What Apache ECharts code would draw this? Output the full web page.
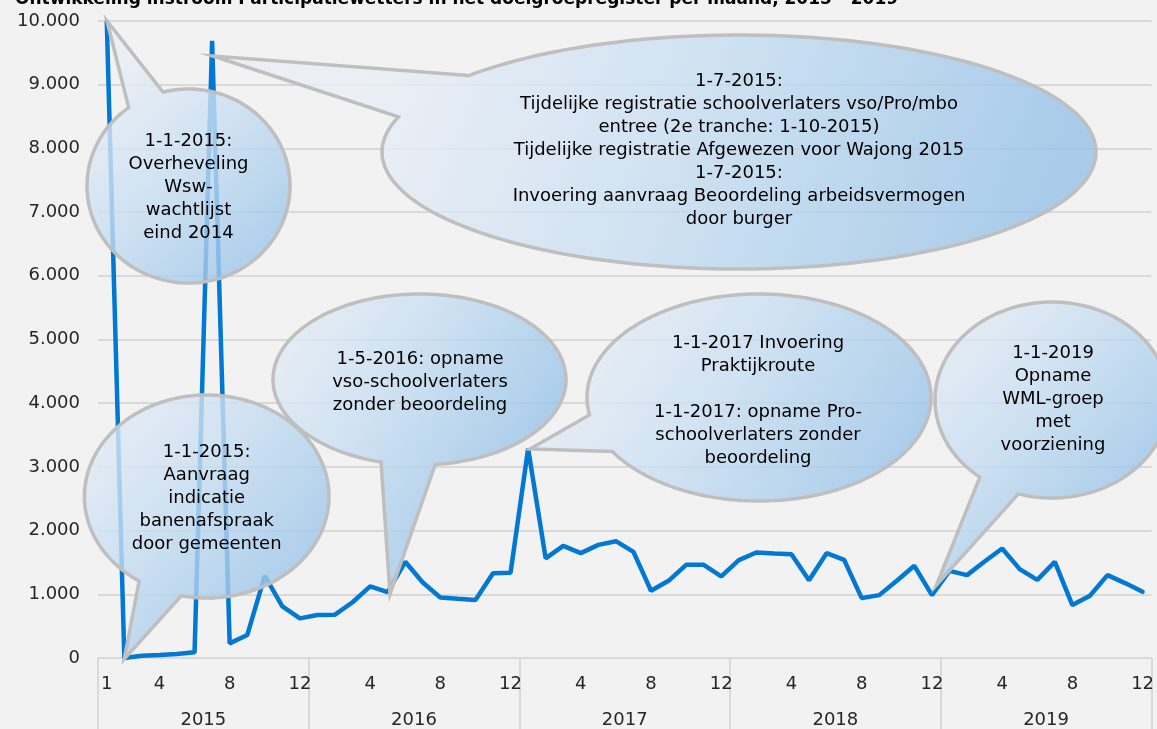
<!DOCTYPE html>
<html>
<head>
<meta charset="utf-8">
<script src="https://cdn.jsdelivr.net/npm/echarts@6/dist/echarts.min.js"></script>
<style>
html,body{margin:0;padding:0;background:#f2f2f2;}
#chart{width:1157px;height:729px;}
</style>
</head>
<body>
<div id="chart"></div>
<script>
// ---- data ----
const years = ['2015', '2016', '2017', '2018', '2019'];
const months = ['1','2','3','4','5','6','7','8','9','10','11','12'];
const shownMonths = ['4', '8', '12'];
const v2015 = [9990, 0, 36, 47, 63, 89, 9690, 230, 360, 1290, 810, 622];
const v2016 = [674, 680, 875, 1125, 1035, 1510, 1186, 951, 930, 912, 1332, 1340];
const v2017 = [3287, 1563, 1760, 1646, 1776, 1834, 1666, 1055, 1212, 1462, 1462, 1280];
const v2018 = [1536, 1656, 1641, 1630, 1222, 1646, 1541, 940, 987, 1212, 1447, 987];
const v2019 = [1368, 1301, 1515, 1719, 1395, 1227, 1510, 831, 977, 1301, 1176, 1039];
const yTickLabels = ['0','1.000','2.000','3.000','4.000','5.000','6.000','7.000','8.000','9.000','10.000'];
const titleText = 'Ontwikkeling instroom Participatiewetters in het doelgroepregister per maand, 2015 - 2019';

const notes = [
  '1-1-2015:\nOverheveling\nWsw-\nwachtlijst\neind 2014',
  '1-7-2015:\nTijdelijke registratie schoolverlaters vso/Pro/mbo\nentree (2e tranche: 1-10-2015)\nTijdelijke registratie Afgewezen voor Wajong 2015\n1-7-2015:\nInvoering aanvraag Beoordeling arbeidsvermogen\ndoor burger',
  '1-5-2016: opname\nvso-schoolverlaters\nzonder beoordeling',
  '1-1-2015:\nAanvraag\nindicatie\nbanenafspraak\ndoor gemeenten',
  '1-1-2017 Invoering\nPraktijkroute\n\n1-1-2017: opname Pro-\nschoolverlaters zonder\nbeoordeling',
  '1-1-2019\nOpname\nWML-groep\nmet\nvoorziening'
];

// ---- layout of the speech bubbles (pixels) ----
const bubbleLayout = [
  {cx:188.5, cy:186, rx:101.5, ry:97, a:[129,108], b:[163,92], tip:[107,21], ty:187},
  {cx:739, cy:152, rx:357, ry:117, a:[463,74], b:[399,117], tip:[213,56], ty:150},
  {cx:419.5, cy:379.5, rx:146.5, ry:85.5, a:[380.7,462.7], b:[435.4,465], tip:[390,594], ty:382, tx:420},
  {cx:206.7, cy:496.5, rx:122.3, ry:101.5, a:[140,580], b:[181.7,594], tip:[124.3,659], ty:498},
  {cx:759, cy:397.5, rx:172, ry:103.5, a:[589,415], b:[611,452], tip:[530,449], ty:400.5, tx:758},
  {cx:1052, cy:400, rx:117, ry:98, a:[979.7,477.3], b:[1018.2,494.3], tip:[936.5,585], ty:399, tx:1053}
];

const categories = [];
years.forEach(y => months.forEach(m => categories.push(y + '|' + m)));
const values = [].concat(v2015, v2016, v2017, v2018, v2019);

const FONT = '"DejaVu Sans", Verdana, sans-serif';

function norm(a){ const T = Math.PI*2; a = a % T; return a < 0 ? a + T : a; }
function bubblePolygon(L){
  const ang = p => Math.atan2((p[1]-L.cy)/L.ry, (p[0]-L.cx)/L.rx);
  const ta = ang(L.a), tb = ang(L.b), tt = ang(L.tip);
  const d = norm(tb - ta), t = norm(tt - ta);
  let start, span;
  if (t < d) { start = tb; span = Math.PI*2 - d; } else { start = ta; span = d; }
  const pts = [];
  const N = 160;
  for (let k = 0; k <= N; k++) {
    const th = start + span * k / N;
    pts.push([L.cx + L.rx*Math.cos(th), L.cy + L.ry*Math.sin(th)]);
  }
  pts.push(L.tip);
  return pts;
}

const graphics = [];
graphics.push({
  type:'text', z: 100,
  style:{ x: 15, y: 8, text: titleText, font: 'bold 17px ' + FONT, fill:'#000', align:'left', verticalAlign:'bottom' }
});
bubbleLayout.forEach((L, i) => {
  graphics.push({
    type:'polygon', z: 50 + i*2,
    shape:{ points: bubblePolygon(L) },
    style:{
      fill: { type:'linear', global:true,
              x: L.cx - L.rx, y: L.cy - L.ry, x2: L.cx + L.rx*0.8, y2: L.cy + L.ry,
              colorStops:[{offset:0, color:'rgba(234,239,246,0.8)'}, {offset:0.45, color:'rgba(200,222,242,0.8)'}, {offset:1, color:'rgba(150,194,232,0.8)'}] },
      stroke:'#bfbfbf', lineWidth:3.5, lineJoin:'miter'
    }
  });
  graphics.push({
    type:'text', z: 51 + i*2,
    style:{ x: (L.tx !== undefined ? L.tx : L.cx), y: L.ty, text: notes[i],
            font: '18px ' + FONT, lineHeight: 23, fill:'#000', align:'center', verticalAlign:'middle' }
  });
});

const chart = echarts.init(document.getElementById('chart'), null, {renderer:'canvas'});
chart.setOption({
  backgroundColor:'#f2f2f2',
  animation:false,
  grid:{ left:98, right:0.5, top:21, bottom:70, containLabel:false },
  xAxis:[
    {
      type:'category', data:categories, boundaryGap:true,
      axisLine:{ show:true, lineStyle:{ color:'#d9d9d9', width:2 } },
      axisTick:{ show:false },
      splitLine:{ show:false },
      axisLabel:{
        interval: (idx, val) => idx === 0 || shownMonths.indexOf(val.split('|')[1]) >= 0,
        formatter: v => v.split('|')[1],
        margin: 17, fontSize: 18, fontFamily: FONT, color:'#262626'
      }
    },
    {
      type:'category', data:years, position:'bottom', boundaryGap:true,
      axisLine:{ show:false },
      axisTick:{ show:true, interval:0, length:72, lineStyle:{ color:'#d9d9d9', width:2 } },
      splitLine:{ show:false },
      axisLabel:{ interval:0, margin:53, fontSize:18, fontFamily: FONT, color:'#262626' }
    }
  ],
  yAxis:{
    type:'value', min:0, max:10000, interval:1000,
    axisLine:{ show:false }, axisTick:{ show:false },
    splitLine:{ lineStyle:{ color:'#d9d9d9', width:2 } },
    axisLabel:{ margin:18, fontSize:18, fontFamily: FONT, color:'#262626',
                formatter: v => yTickLabels[Math.round(v/1000)] }
  },
  series:[{
    type:'line', data: values, xAxisIndex:0, yAxisIndex:0,
    symbol:'none', smooth:false,
    lineStyle:{ color:'#0078d4', width:4.5, cap:'round' },
    z: 10
  }],
  graphic: graphics
});
</script>
</body>
</html>
